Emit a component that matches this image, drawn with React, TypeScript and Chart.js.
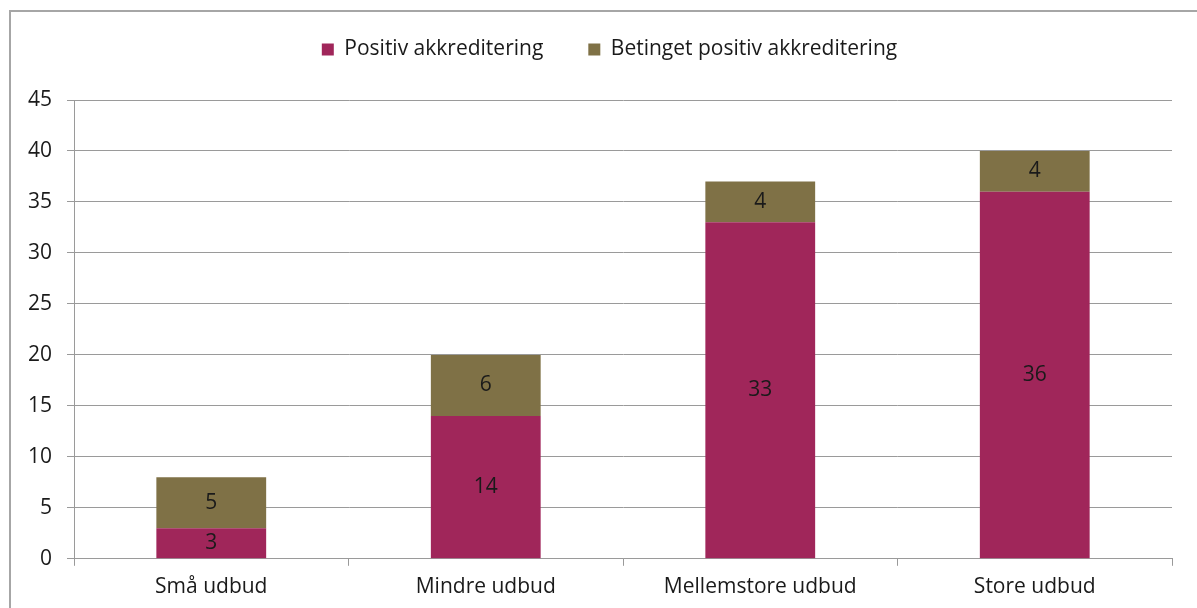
import React, { useEffect, useRef } from "react";
import { Chart, registerables } from "chart.js";

Chart.register(...registerables);

const categories = ["Små udbud", "Mindre udbud", "Mellemstore udbud", "Store udbud"];
const positivValues = [3, 14, 33, 36];
const betingetValues = [5, 6, 4, 4];
const seriesNames = ["Positiv akkreditering", "Betinget positiv akkreditering"];

const FONT = "'Open Sans', 'Noto Sans', sans-serif";
const FONT_SIZE = 21;
const TEXT_COLOR = "#1a1a1a";
const GRID_COLOR = "#9a9a9a";
const LEGEND_EXTRA = 24;
const LEGEND_SHIFT_Y = -6;
const LEGEND_SHIFT_X = 17;

const legendTune = {
  id: "legendTune",
  beforeLayout(chart: any) {
    const lg = chart.legend;
    if (lg && !lg.__patched) {
      lg.__patched = true;
      const orig = lg.fit;
      lg.fit = function () {
        orig.call(this);
        this.height += LEGEND_EXTRA;
      };
    }
  },
  afterLayout(chart: any) {
    const lg = chart.legend;
    if (lg) {
      lg.top += LEGEND_SHIFT_Y;
      lg.bottom += LEGEND_SHIFT_Y;
      lg.left += LEGEND_SHIFT_X;
      lg.right += LEGEND_SHIFT_X;
    }
  },
};

const segmentLabels = {
  id: "segmentLabels",
  afterDatasetsDraw(chart: any) {
    const ctx = chart.ctx;
    ctx.save();
    ctx.font = `${FONT_SIZE}px ${FONT}`;
    ctx.fillStyle = TEXT_COLOR;
    ctx.textAlign = "center";
    ctx.textBaseline = "middle";
    chart.data.datasets.forEach((ds: any, di: number) => {
      const meta = chart.getDatasetMeta(di);
      meta.data.forEach((el: any, i: number) => {
        const { x, y, base } = el.getProps(["x", "y", "base"], true);
        ctx.fillText(String(ds.data[i]), x, (y + base) / 2);
      });
    });
    ctx.restore();
  },
};

export default function App() {
  const canvasRef = useRef<HTMLCanvasElement | null>(null);

  useEffect(() => {
    if (!canvasRef.current) return;
    const chart = new Chart(canvasRef.current, {
      type: "bar",
      data: {
        labels: categories,
        datasets: [
          {
            label: seriesNames[0],
            data: positivValues,
            backgroundColor: "#A0265A",
            categoryPercentage: 1,
            barPercentage: 0.4,
          },
          {
            label: seriesNames[1],
            data: betingetValues,
            backgroundColor: "#7F7146",
            categoryPercentage: 1,
            barPercentage: 0.4,
          },
        ],
      },
      options: {
        animation: false,
        responsive: true,
        maintainAspectRatio: false,
        layout: { padding: { left: 13, right: 25, top: 0, bottom: 2 } },
        plugins: {
          legend: {
            position: "top",
            labels: {
              boxWidth: 12,
              boxHeight: 12,
              padding: 45,
              color: TEXT_COLOR,
              font: { family: FONT, size: FONT_SIZE },
            },
          },
          tooltip: { enabled: false },
        },
        scales: {
          x: {
            stacked: true,
            grid: {
              display: true,
              drawOnChartArea: false,
              drawTicks: true,
              tickLength: 7,
              color: GRID_COLOR,
              offset: true,
            },
            border: { display: true, color: GRID_COLOR },
            ticks: {
              color: TEXT_COLOR,
              padding: 9,
              font: { family: FONT, size: FONT_SIZE },
              maxRotation: 0,
            },
          },
          y: {
            stacked: true,
            min: 0,
            max: 45,
            grid: {
              color: GRID_COLOR,
              tickLength: 7,
            },
            border: { display: true, color: GRID_COLOR },
            ticks: {
              stepSize: 5,
              color: TEXT_COLOR,
              padding: 15,
              font: { family: FONT, size: FONT_SIZE },
            },
          },
        },
      },
      plugins: [legendTune, segmentLabels],
    });
    return () => chart.destroy();
  }, []);

  return (
    <div style={{ position: "fixed", left: 0, top: 0, width: 1197, height: 608, background: "#fff", overflow: "hidden" }}>
      <div
        style={{
          position: "absolute",
          left: 9,
          top: 10,
          width: 1188,
          height: 598,
          boxSizing: "border-box",
          borderLeft: "2px solid #a6a6a6",
          borderTop: "2px solid #a6a6a6",
        }}
      />
      <div style={{ position: "absolute", left: 0, top: 0, width: 1197, height: 611 }}>
        <canvas ref={canvasRef} />
      </div>
    </div>
  );
}
